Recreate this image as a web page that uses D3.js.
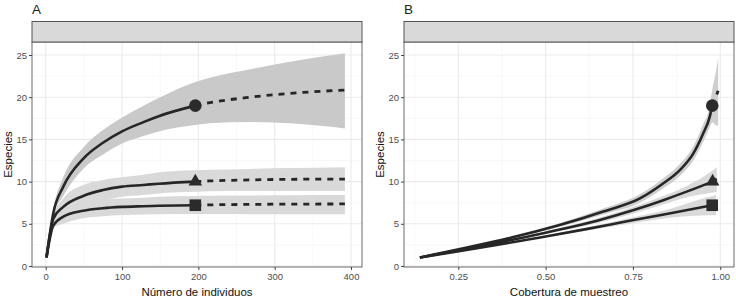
<!DOCTYPE html>
<html lang="es">
  <head>
    <meta charset="UTF-8" />
    <title>Curvas de rarefacción</title>
    <style>
      body { margin: 0; background: #fff; }
      svg { font-family: "Liberation Sans", Arial, sans-serif; }
    </style>
  </head>
  <body>
    <svg id="svg" width="736" height="299"></svg>

    <script src="https://cdn.jsdelivr.net/npm/d3@7"></script>
    <script>
      const WIDTH = 736;
      const HEIGHT = 299;
      const TOP = 42;
      const BOTTOM = 267;

      // --- Panel A: especies vs número de individuos ---
      const nRare = [1, 10, 23, 49, 75, 100, 128, 148, 196];
      const nExtra = [196, 215, 268, 320, 392];

      const circRare = [1, 6.3, 9.4, 12.7, 14.6, 15.95, 17.05, 17.75, 19.0];
      const circRareLo = [1, 5.9, 8.3, 11.5, 13.2, 14.5, 15.4, 15.95, 16.7];
      const circRareHi = [1, 6.8, 10.5, 14.0, 16.1, 17.6, 19.0, 19.9, 21.8];
      const circExtra = [19.0, 19.35, 20.0, 20.45, 20.85];
      const circExtraLo = [16.7, 16.9, 17.05, 16.9, 16.3];
      const circExtraHi = [21.8, 22.3, 23.3, 24.2, 25.2];

      const triRare = [1, 5.6, 7.0, 8.3, 9.0, 9.4, 9.6, 9.75, 10.0];
      const triRareLo = [1, 5.3, 6.1, 7.0, 7.7, 8.2, 8.4, 8.6, 8.8];
      const triRareHi = [1, 6.0, 8.0, 9.6, 10.2, 10.5, 10.8, 11.1, 11.35];
      const triExtra = [10.0, 10.08, 10.2, 10.27, 10.3];
      const triExtraLo = [8.8, 8.85, 8.9, 8.9, 8.9];
      const triExtraHi = [11.35, 11.4, 11.5, 11.6, 11.7];

      const sqRare = [1, 4.8, 5.85, 6.55, 6.85, 7.0, 7.08, 7.13, 7.2];
      const sqRareLo = [1, 4.5, 5.0, 5.65, 5.9, 6.05, 6.1, 6.12, 6.15];
      const sqRareHi = [1, 5.1, 6.7, 7.5, 7.85, 8.0, 8.1, 8.2, 8.3];
      const sqExtra = [7.2, 7.24, 7.3, 7.33, 7.35];
      const sqExtraLo = [6.15, 6.15, 6.14, 6.13, 6.12];
      const sqExtraHi = [8.3, 8.32, 8.35, 8.38, 8.4];

      // --- Panel B: especies vs cobertura de muestreo ---
      const circCov = [0.14, 0.665, 0.77, 0.837, 0.885, 0.923, 0.951, 0.97, 0.977];
      const circCovS = [1, 6.45, 8.0, 9.8, 11.4, 13.35, 15.7, 17.7, 19.0];
      const circCovLo = [1, 6.1, 7.5, 9.2, 10.7, 12.5, 14.7, 16.4, 17.0];
      const circCovHi = [1, 6.8, 8.5, 10.4, 12.1, 14.2, 16.8, 19.0, 20.9];
      const circCovExtra = [0.977, 0.986, 0.994];
      const circCovExtraS = [19.0, 19.9, 20.75];
      const circCovExtraLo = [17.0, 16.7, 16.6];
      const circCovExtraHi = [20.9, 22.7, 24.6];

      const triCov = [0.14, 0.5, 0.65, 0.75, 0.837, 0.9, 0.978];
      const triCovS = [1, 3.95, 5.4, 6.6, 7.8, 8.75, 10.0];
      const triCovLo = [1, 3.8, 5.1, 6.2, 7.3, 8.1, 8.7];
      const triCovHi = [1, 4.1, 5.7, 7.0, 8.3, 9.4, 11.3];
      const triCovExtra = [0.978, 0.99];
      const triCovExtraS = [10.0, 10.3];
      const triCovExtraLo = [8.7, 8.8];
      const triCovExtraHi = [11.3, 11.7];

      const sqCov = [0.14, 0.5, 0.62, 0.74, 0.85, 0.977];
      const sqCovS = [1, 3.5, 4.4, 5.35, 6.2, 7.2];
      const sqCovLo = [1, 3.4, 4.2, 5.0, 5.7, 6.0];
      const sqCovHi = [1, 3.6, 4.6, 5.7, 6.7, 8.3];
      const sqCovExtra = [0.977, 0.988];
      const sqCovExtraS = [7.2, 7.35];
      const sqCovExtraLo = [6.0, 6.0];
      const sqCovExtraHi = [8.3, 8.4];

      const yTicks = [0, 5, 10, 15, 20, 25];
      const yMinor = [2.5, 7.5, 12.5, 17.5, 22.5];
      const xTicksA = [0, 100, 200, 300, 400];
      const xMinorA = [50, 150, 250, 350];
      const xTicksB = [0.25, 0.5, 0.75, 1.0];
      const xMinorB = [0.125, 0.375, 0.625, 0.875];

      function zip(xs, ys, lo, hi) {
        return xs.map((x, i) => ({ x: x, y: ys[i], lo: lo[i], hi: hi[i] }));
      }

      function makeSeries(x1, y1, lo1, hi1, x2, y2, lo2, hi2, shape, band) {
        const rare = zip(x1, y1, lo1, hi1);
        const extra = zip(x2, y2, lo2, hi2);
        return {
          rare: rare,
          extra: extra,
          all: rare.concat(extra.slice(1)),
          obs: rare[rare.length - 1],
          shape: shape,
          band: band,
        };
      }

      const seriesA = [
        makeSeries(nRare, circRare, circRareLo, circRareHi, nExtra, circExtra, circExtraLo, circExtraHi, "circle", "#c9c9c9"),
        makeSeries(nRare, triRare, triRareLo, triRareHi, nExtra, triExtra, triExtraLo, triExtraHi, "triangle", "#d9d9d9"),
        makeSeries(nRare, sqRare, sqRareLo, sqRareHi, nExtra, sqExtra, sqExtraLo, sqExtraHi, "square", "#d9d9d9"),
      ];
      const seriesB = [
        makeSeries(circCov, circCovS, circCovLo, circCovHi, circCovExtra, circCovExtraS, circCovExtraLo, circCovExtraHi, "circle", "#cfcfcf"),
        makeSeries(triCov, triCovS, triCovLo, triCovHi, triCovExtra, triCovExtraS, triCovExtraLo, triCovExtraHi, "triangle", "#d9d9d9"),
        makeSeries(sqCov, sqCovS, sqCovLo, sqCovHi, sqCovExtra, sqCovExtraS, sqCovExtraLo, sqCovExtraHi, "square", "#d9d9d9"),
      ];

      const yScale = d3.scaleLinear().domain([-0.12, 26.54]).range([BOTTOM, TOP]);

      const symbols = {
        circle: d3.symbol().type(d3.symbolCircle).size(125),
        triangle: d3.symbol().type(d3.symbolTriangle).size(80),
        square: d3.symbol().type(d3.symbolSquare).size(135),
      };

      const svg = d3.select("#svg");

      function drawPanel(opt) {
        const xScale = d3.scaleLinear().domain(opt.domain).range([opt.left, opt.right]);
        const g = svg.append("g");

        // grid
        const grid = g.append("g");
        grid.selectAll(".ymin").data(yMinor).enter().append("line")
          .attr("x1", opt.left).attr("x2", opt.right)
          .attr("y1", (d) => yScale(d)).attr("y2", (d) => yScale(d))
          .attr("stroke", "#f3f3f3").attr("stroke-width", 0.6);
        grid.selectAll(".xmin").data(opt.minor).enter().append("line")
          .attr("y1", TOP).attr("y2", BOTTOM)
          .attr("x1", (d) => xScale(d)).attr("x2", (d) => xScale(d))
          .attr("stroke", "#f3f3f3").attr("stroke-width", 0.6);
        grid.selectAll(".ymaj").data(yTicks).enter().append("line")
          .attr("x1", opt.left).attr("x2", opt.right)
          .attr("y1", (d) => yScale(d)).attr("y2", (d) => yScale(d))
          .attr("stroke", "#ebebeb").attr("stroke-width", 1.1);
        grid.selectAll(".xmaj").data(opt.ticks).enter().append("line")
          .attr("y1", TOP).attr("y2", BOTTOM)
          .attr("x1", (d) => xScale(d)).attr("x2", (d) => xScale(d))
          .attr("stroke", "#ebebeb").attr("stroke-width", 1.1);

        const area = d3.area()
          .x((d) => xScale(d.x))
          .y0((d) => yScale(d.lo))
          .y1((d) => yScale(d.hi))
          .curve(d3.curveMonotoneX);
        const line = d3.line()
          .x((d) => xScale(d.x))
          .y((d) => yScale(d.y))
          .curve(d3.curveMonotoneX);

        // confidence bands
        g.append("g").selectAll("path").data(opt.series).enter().append("path")
          .attr("d", (s) => area(s.all))
          .attr("fill", (s) => s.band);

        // interpolated (solid) and extrapolated (dashed)
        opt.series.forEach((s) => {
          g.append("path").attr("d", line(s.rare))
            .attr("fill", "none").attr("stroke", "#262626").attr("stroke-width", 2.6);
          g.append("path").attr("d", line(s.extra))
            .attr("fill", "none").attr("stroke", "#262626").attr("stroke-width", 2.8)
            .attr("stroke-dasharray", "6,6");
        });

        g.append("g").selectAll("path").data(opt.series).enter().append("path")
          .attr("d", (s) => symbols[s.shape]())
          .attr("transform", (s) => `translate(${xScale(s.obs.x)},${yScale(s.obs.y)})`)
          .attr("fill", "#2b2b2b");

        // panel border and strip
        g.append("rect")
          .attr("x", opt.left).attr("y", TOP)
          .attr("width", opt.right - opt.left).attr("height", BOTTOM - TOP)
          .attr("fill", "none").attr("stroke", "#6a6a6a").attr("stroke-width", 1);
        g.append("rect")
          .attr("x", opt.left).attr("y", 21.5)
          .attr("width", opt.right - opt.left).attr("height", TOP - 21.5)
          .attr("fill", "#d9d9d9").attr("stroke", "#555").attr("stroke-width", 1);

        // axes
        const bottomAxis = d3.axisBottom(xScale).tickValues(opt.ticks)
          .tickSize(3).tickPadding(3).tickFormat(opt.format);
        const leftAxis = d3.axisLeft(yScale).tickValues(yTicks)
          .tickSize(3).tickPadding(2);

        const ax = g.append("g").attr("transform", `translate(0, ${BOTTOM})`).call(bottomAxis);
        const ay = g.append("g").attr("transform", `translate(${opt.left}, 0)`).call(leftAxis);
        [ax, ay].forEach((a) => {
          a.select(".domain").remove();
          a.selectAll("line").attr("stroke", "#444");
          a.selectAll("text").attr("fill", "#4d4d4d").style("font-size", "9.5px")
            .style("font-family", "Liberation Sans, Arial, sans-serif");
        });

        // titles
        g.append("text")
          .attr("x", (opt.left + opt.right) / 2).attr("y", 296)
          .attr("text-anchor", "middle").attr("font-size", 11.5).attr("fill", "#111")
          .text(opt.xTitle);
        g.append("text")
          .attr("transform", `translate(${opt.left - 20}, ${(TOP + BOTTOM) / 2}) rotate(-90)`)
          .attr("text-anchor", "middle").attr("font-size", 11.5).attr("fill", "#111")
          .text("Especies");
        g.append("text")
          .attr("x", opt.left).attr("y", 14)
          .attr("font-size", 13.5).attr("fill", "#222")
          .text(opt.tag);
      }

      drawPanel({
        tag: "A",
        left: 32, right: 362,
        domain: [-18, 414.4],
        ticks: xTicksA, minor: xMinorA,
        format: d3.format("d"),
        xTitle: "Número de individuos",
        series: seriesA,
      });

      drawPanel({
        tag: "B",
        left: 404, right: 734,
        domain: [0.0946, 1.0393],
        ticks: xTicksB, minor: xMinorB,
        format: d3.format(".2f"),
        xTitle: "Cobertura de muestreo",
        series: seriesB,
      });
    </script>
  </body>
</html>
